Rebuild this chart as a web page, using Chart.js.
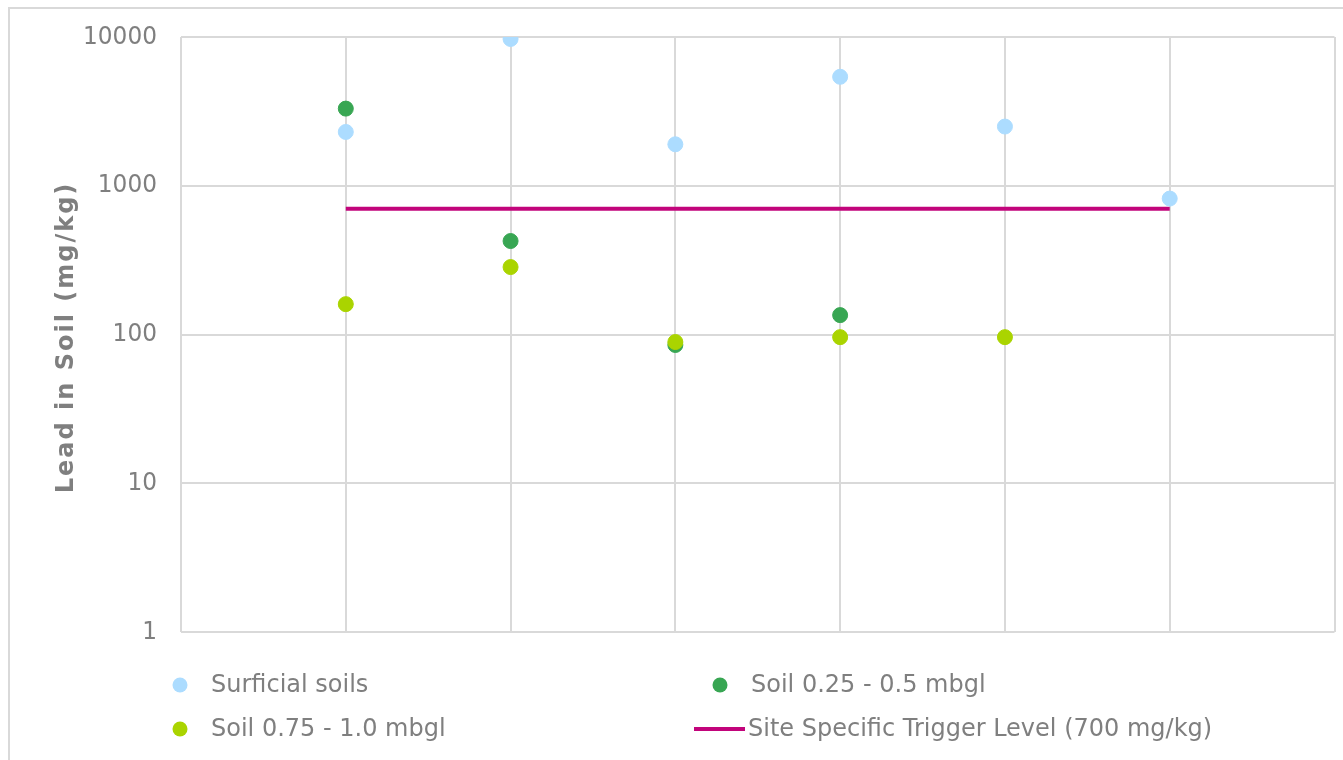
<!DOCTYPE html>
<html>
<head>
<meta charset="utf-8">
<script src="https://cdn.jsdelivr.net/npm/chart.js@4.4.1/dist/chart.umd.min.js"></script>
<style>
  html, body { margin: 0; padding: 0; background: #fff; }
  #wrap { position: relative; width: 1343px; height: 760px; overflow: hidden; }
  #frame { position: absolute; left: 8px; top: 7px; width: 1400px; height: 800px; border: 2px solid #d9d9d9; box-sizing: border-box; }
  #chart { position: absolute; left: 0; top: 0; }
</style>
</head>
<body>
<div id="wrap">
  <div id="frame"></div>
  <canvas id="chart" width="1343" height="760"></canvas>
</div>
<script>
// ===== DATA =====
const surficialX = [1, 2, 3, 4, 5, 6]
const surficialY = [2300, 9700, 1900, 5400, 2500, 820]
const soil025X = [1, 2, 3, 4]
const soil025Y = [3300, 425, 85, 135]
const soil075X = [1, 2, 3, 4, 5]
const soil075Y = [160, 284, 89, 96, 96]
const triggerX = [1, 6]
const triggerY = [700, 700]
const yTicks = [1, 10, 100, 1000, 10000]
const seriesLabels = ['Surficial soils', 'Soil 0.25 - 0.5 mbgl', 'Soil 0.75 - 1.0 mbgl', 'Site Specific Trigger Level (700 mg/kg)']
const yTitle = 'Lead in Soil (mg/kg)'

const textColor = '#7f7f7f'
const gridColor = '#d9d9d9'

function toPoints(xs, ys) {
  return xs.map((x, i) => ({ x: x, y: ys[i] }))
}

// teks agak dipadatkan seperti font aslinya
function squeezedText(ctx, text, x, y, sx) {
  ctx.save()
  ctx.translate(x, y)
  ctx.scale(sx, 1)
  ctx.fillText(text, 0, 0)
  ctx.restore()
}

// ===== LABEL SUMBU Y + JUDUL =====
const yAxisText = {
  id: 'yAxisText',
  afterDraw(chart) {
    const scale = chart.scales.y
    const ctx = chart.ctx
    ctx.save()
    ctx.fillStyle = textColor
    ctx.font = '25px "DejaVu Sans"'
    ctx.textAlign = 'right'
    ctx.textBaseline = 'middle'
    yTicks.forEach(v => {
      squeezedText(ctx, String(v), chart.chartArea.left - 24, scale.getPixelForValue(v), 0.93)
    })

    // judul sumbu
    ctx.font = 'bold 24px "DejaVu Sans"'
    ctx.letterSpacing = '2px'
    ctx.textAlign = 'center'
    ctx.textBaseline = 'alphabetic'
    ctx.translate(73, (chart.chartArea.top + chart.chartArea.bottom) / 2 + 3)
    ctx.rotate(-Math.PI / 2)
    ctx.fillText(yTitle, 0, 0)
    ctx.restore()
  }
}

// ===== LEGEND (2 kolom, posisi tetap) =====
const gridLegend = {
  id: 'gridLegend',
  afterDraw(chart) {
    const ctx = chart.ctx
    const slots = [
      { x: 180, y: 685 }, { x: 720, y: 685 },
      { x: 180, y: 729 }, { x: 720, y: 729 }
    ]
    ctx.save()
    ctx.font = '25px "DejaVu Sans"'
    ctx.textBaseline = 'middle'
    chart.data.datasets.forEach((ds, i) => {
      const s = slots[i]
      if (ds.showLine) {
        ctx.strokeStyle = ds.borderColor
        ctx.lineWidth = ds.borderWidth
        ctx.beginPath()
        ctx.moveTo(s.x - 26, s.y)
        ctx.lineTo(s.x + 25, s.y)
        ctx.stroke()
        ctx.fillStyle = textColor
        squeezedText(ctx, ds.label, s.x + 28, s.y, 0.96)
      } else {
        ctx.fillStyle = ds.backgroundColor
        ctx.beginPath()
        ctx.arc(s.x, s.y, 7.5, 0, Math.PI * 2)
        ctx.fill()
        ctx.fillStyle = textColor
        squeezedText(ctx, ds.label, s.x + 31, s.y, 0.96)
      }
    })
    ctx.restore()
  }
}

const ctx = document.getElementById('chart').getContext('2d')

new Chart(ctx, {
  type: 'scatter',
  data: {
    datasets: [
      {
        label: seriesLabels[0],
        data: toPoints(surficialX, surficialY),
        backgroundColor: '#acdcff',
        borderColor: '#acdcff',
        pointRadius: 7.5,
        order: 3
      },
      {
        label: seriesLabels[1],
        data: toPoints(soil025X, soil025Y),
        backgroundColor: '#38a653',
        borderColor: '#38a653',
        pointRadius: 7.5,
        order: 2
      },
      {
        label: seriesLabels[2],
        data: toPoints(soil075X, soil075Y),
        backgroundColor: '#aad400',
        borderColor: '#aad400',
        pointRadius: 7.5,
        order: 1
      },
      {
        label: seriesLabels[3],
        data: toPoints(triggerX, triggerY),
        showLine: true,
        borderColor: '#c2047b',
        backgroundColor: '#c2047b',
        borderWidth: 4,
        pointRadius: 0,
        order: 4
      }
    ]
  },
  options: {
    responsive: false,
    animation: false,
    devicePixelRatio: 1,
    layout: {
      padding: { top: 37, right: 8, bottom: 128, left: 0 }
    },
    plugins: {
      legend: { display: false },
      tooltip: { enabled: false }
    },
    scales: {
      x: {
        type: 'linear',
        min: 0,
        max: 7,
        ticks: { display: false, stepSize: 1 },
        grid: { color: gridColor, lineWidth: 2, drawTicks: false },
        border: { display: false },
        afterFit: function(scale) { scale.height = 0 }
      },
      y: {
        type: 'logarithmic',
        min: 1,
        max: 10000,
        afterBuildTicks: function(scale) {
          scale.ticks = yTicks.map(v => ({ value: v }))
        },
        afterFit: function(scale) { scale.width = 181 },
        ticks: { display: false },
        grid: { color: gridColor, lineWidth: 2, drawTicks: false },
        border: { display: false }
      }
    }
  },
  plugins: [yAxisText, gridLegend]
})
</script>
</body>
</html>
